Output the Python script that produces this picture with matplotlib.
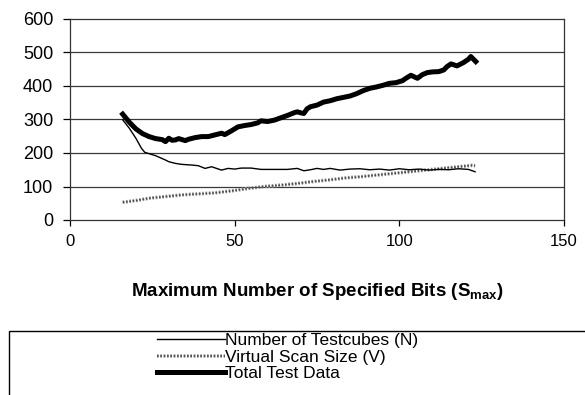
import matplotlib
matplotlib.use("Agg")
import matplotlib.pyplot as plt
import matplotlib.patheffects as pe
from matplotlib.patches import Rectangle

plt.rcParams['font.family'] = ['Liberation Sans', 'DejaVu Sans']
plt.rcParams['mathtext.fontset'] = 'custom'
plt.rcParams['mathtext.rm'] = 'Liberation Sans'
plt.rcParams['mathtext.bf'] = 'Liberation Sans:bold'

# ---- data ----
x_total = [16, 18, 20, 22, 24, 26, 28, 29, 30, 31, 32, 33, 34, 35, 36, 38, 40, 42, 44,
           46, 47, 49, 51, 53, 55, 57, 58, 60, 62, 64, 66, 68, 69, 70, 71, 72, 73, 75,
           77, 79, 81, 83, 85, 87, 89, 91, 93, 95, 97, 99, 101, 102, 103.5, 105.5, 107,
           108.5, 110, 112, 113.5, 114.5, 115.7, 117.5, 119.5, 121, 121.7, 123.2]
total = [316, 292, 272, 258, 249, 243, 240, 234, 244, 238, 239, 243, 240, 237, 241, 246,
         249, 249, 254, 259, 255, 266, 278, 282, 285, 290, 296, 294, 298, 305, 312, 320,
         323, 320, 318, 332, 338, 343, 352, 356, 362, 366, 370, 377, 386, 393, 397, 402,
         408, 410, 416, 423, 432, 423, 434, 440, 442, 443, 448, 458, 466, 460, 470, 480,
         488, 473]

x_n = [16, 18, 20, 21.7, 22.7, 26, 29, 30, 32, 34, 37, 39, 41, 43, 46, 48, 50, 52, 55,
       58, 62, 66, 69, 71, 73, 75, 77, 79, 82, 85, 88, 91, 94, 97, 100, 103, 106, 109,
       112, 115, 118, 121, 123]
testcubes = [299, 274, 244, 214, 202, 192, 179, 174, 169, 166, 164, 162, 154, 159, 149,
             154, 152, 155, 155, 151, 151, 151, 154, 147, 150, 154, 151, 154, 149, 152,
             153, 150, 152, 149, 153, 150, 152, 149, 151, 150, 153, 151, 144]

x_v = [16, 20, 24, 29, 34, 39, 44, 50, 54, 59, 64, 69, 74, 79, 84, 88, 93, 98, 103,
       108, 113, 118, 122, 123]
scan = [53, 58, 65, 70, 75, 78, 81, 88, 94, 100, 104, 109, 115, 120, 126, 129, 134,
        139, 144, 149, 154, 159, 163, 162]

labels = ['Number of Testcubes (N)', 'Virtual Scan Size (V)', 'Total Test Data']
xticks = [0, 50, 100, 150]
yticks = [0, 100, 200, 300, 400, 500, 600]

# ---- figure ----
fig = plt.figure(figsize=(5.85, 3.95), dpi=100)
ax = fig.add_axes([70/585, 1-220/395, (564-70)/585, (220-19)/395])

for y in yticks[1:-1]:
    ax.axhline(y, color='#3a3a3a', lw=0.9, zorder=1)

l1, = ax.plot(x_n, testcubes, color='black', lw=1.0, zorder=3)
l2, = ax.plot(x_v, scan, color='#4a4a4a', lw=1.2, ls=(0, (1, 1)), zorder=2,
              path_effects=[pe.Stroke(linewidth=2.6, foreground='#9a9a9a'), pe.Normal()])
l3, = ax.plot(x_total, total, color='black', lw=3.6, zorder=4)

ax.set_xlim(0, 150)
ax.set_ylim(0, 600)
ax.set_xticks(xticks)
ax.set_yticks(yticks)
ax.tick_params(axis='x', direction='out', length=4, width=0.9, pad=6, labelsize=12)
ax.tick_params(axis='y', direction='out', length=5, width=0.9, pad=7, labelsize=13)
for s in ax.spines.values():
    s.set_color('#333333')
    s.set_linewidth(0.9)

ax.set_xlabel(r'Maximum Number of Specified Bits (S$_{\mathbf{max}}$)',
              fontsize=13.5, fontweight='bold', labelpad=23)

# legend box (cropped at figure edge)
fig.patches.append(Rectangle((9/585, -0.2), 1.2, (1-331/395)+0.2,
                             transform=fig.transFigure, fill=False,
                             edgecolor='black', lw=1.0))
fig.legend([l1, l2, l3], labels, loc='upper left',
           bbox_to_anchor=(157/585, 1-333/395), frameon=False, borderpad=0,
           borderaxespad=0, handlelength=3.9, handletextpad=0.0,
           labelspacing=0.08, fontsize=12.5)

fig.savefig('out.png', dpi=100)
